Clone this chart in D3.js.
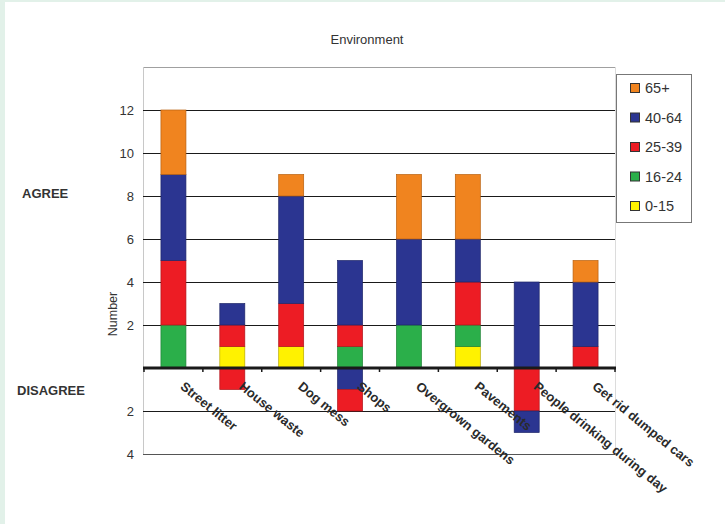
<!DOCTYPE html>
<html>
<head>
<meta charset="utf-8">
<script src="https://cdn.jsdelivr.net/npm/d3@7/dist/d3.min.js"></script>
<style>
  html, body { margin: 0; padding: 0; background: #fff; }
  svg { display: block; }
  text { font-family: "Liberation Sans", Arial, sans-serif; }
</style>
</head>
<body>
<svg id="chart" width="725" height="524"></svg>
<script>
// ---- Data ----
const categories = ["Street litter", "House waste", "Dog mess", "Shops", "Overgrown gardens", "Pavements", "People drinking during day", "Get rid dumped cars"];
const groups = ["0-15", "16-24", "25-39", "40-64", "65+"];           // stacking order (bottom -> top)
const legendOrder = ["65+", "40-64", "25-39", "16-24", "0-15"];
// AGREE (positive) counts
const agree0_15  = [0, 1, 1, 0, 0, 1, 0, 0];
const agree16_24 = [2, 0, 0, 1, 2, 1, 0, 0];
const agree25_39 = [3, 1, 2, 1, 0, 2, 0, 1];
const agree40_64 = [4, 1, 5, 3, 4, 2, 4, 3];
const agree65    = [3, 0, 1, 0, 3, 3, 0, 1];
// DISAGREE (negative) counts
const disagree25_39 = [0, 1, 0, 1, 0, 0, 2, 0];
const disagree40_64 = [0, 0, 0, 1, 0, 0, 1, 0];
const disagreeStackOrder = [[], ["25-39"], [], ["40-64", "25-39"], [], [], ["25-39", "40-64"], []];
const yTicksPos = [2, 4, 6, 8, 10, 12];
const yTicksNeg = [-2, -4];

const agree = { "0-15": agree0_15, "16-24": agree16_24, "25-39": agree25_39, "40-64": agree40_64, "65+": agree65 };
const disagree = { "25-39": disagree25_39, "40-64": disagree40_64 };
const colors = { "65+": "#F0841F", "40-64": "#2B3591", "25-39": "#ED1C24", "16-24": "#2BAF4A", "0-15": "#FFF200" };
const strokes = { "65+": "#B8600F", "40-64": "#1E2668", "25-39": "#B0141A", "16-24": "#1F8036", "0-15": "#B8A800" };

// ---- Layout ----
const svg = d3.select("#chart");
const L = 143, R = 615, T = 67, B = 454;

// page border strips
svg.append("rect").attr("x", 0).attr("y", 0).attr("width", 725).attr("height", 2).attr("fill", "#E2F1E9");
svg.append("rect").attr("x", 0).attr("y", 0).attr("width", 5).attr("height", 524).attr("fill", "#E2F1E9");

const x = d3.scaleBand().domain(categories).range([L + 1, R]).paddingInner(0).paddingOuter(0);
const y = d3.scaleLinear().domain([-4, 14]).range([B, T]);
const barW = 25;

// plot frame
svg.append("line").attr("x1", L).attr("x2", R).attr("y1", T + 0.5).attr("y2", T + 0.5).attr("stroke", "#A0A0A0");
svg.append("line").attr("x1", L + 0.5).attr("x2", L + 0.5).attr("y1", T).attr("y2", B).attr("stroke", "#C8C8C8");
svg.append("line").attr("x1", R + 0.5).attr("x2", R + 0.5).attr("y1", T).attr("y2", B).attr("stroke", "#DCDCDC");

// gridlines via axis
const gridAxis = d3.axisLeft(y).tickValues(yTicksPos.concat(yTicksNeg)).tickSize(-(R - L)).tickFormat("");
const gg = svg.append("g").attr("transform", `translate(${L},0)`).call(gridAxis);
gg.select(".domain").remove();
gg.selectAll(".tick line").attr("stroke", d => d === -4 ? "#555" : "#1a1a1a").attr("stroke-width", 1);

// tick labels
const labAxis = d3.axisLeft(y).tickValues(yTicksPos.concat(yTicksNeg)).tickSize(0).tickPadding(9).tickFormat(d => Math.abs(d));
const lg = svg.append("g").attr("transform", `translate(${L},0)`).call(labAxis);
lg.select(".domain").remove();
lg.selectAll(".tick text").attr("font-size", 13).attr("fill", "#333").attr("font-family", "Liberation Sans, Arial, sans-serif");

// bars - positive stacks
const stackData = categories.map((c, i) => {
  const o = { cat: c };
  groups.forEach(g => o[g] = agree[g][i]);
  return o;
});
const series = d3.stack().keys(groups)(stackData);
const barsG = svg.append("g");
series.forEach(s => {
  barsG.selectAll(null).data(s.filter(d => d[1] - d[0] > 0)).enter().append("rect")
    .attr("x", d => x(d.data.cat) + x.bandwidth() / 2 - barW / 2)
    .attr("y", d => y(d[1]))
    .attr("width", barW)
    .attr("height", d => y(d[0]) - y(d[1]))
    .attr("fill", colors[s.key])
    .attr("stroke", strokes[s.key])
    .attr("stroke-width", 0.7);
});

// bars - negative stacks
categories.forEach((c, i) => {
  let base = 0;
  disagreeStackOrder[i].forEach(g => {
    const v = disagree[g][i];
    const top = base, bot = base - v;
    barsG.append("rect")
      .attr("x", x(c) + x.bandwidth() / 2 - barW / 2)
      .attr("y", y(top))
      .attr("width", barW)
      .attr("height", y(bot) - y(top))
      .attr("fill", colors[g])
      .attr("stroke", strokes[g])
      .attr("stroke-width", 0.7);
    base = bot;
  });
});

// zero axis
const xAxis = d3.axisBottom(x).tickSize(0).tickFormat("");
const xg = svg.append("g").attr("transform", `translate(0,${y(0)})`).call(xAxis);
xg.select(".domain").remove();
svg.append("line").attr("x1", L).attr("x2", R + 1).attr("y1", y(0)).attr("y2", y(0)).attr("stroke", "#1a1a1a").attr("stroke-width", 3);
const bounds = categories.map(c => x(c)).concat([x(categories[categories.length - 1]) + x.bandwidth()]);
svg.selectAll(null).data(bounds).enter().append("line")
  .attr("x1", d => d).attr("x2", d => d)
  .attr("y1", y(0)).attr("y2", y(0) + 4)
  .attr("stroke", "#1a1a1a").attr("stroke-width", 1.5);

// category labels
svg.selectAll(null).data(categories).enter().append("text")
  .attr("transform", d => `translate(${x(d) + x.bandwidth() / 2 + 6},${y(0) + 20}) rotate(39)`)
  .attr("text-anchor", "start")
  .attr("font-size", 13)
  .attr("font-weight", "bold")
  .attr("fill", "#2a2a2a")
  .text(d => d);

// title
svg.append("text").attr("x", 367).attr("y", 44).attr("text-anchor", "middle")
  .attr("font-size", 13).attr("fill", "#333").text("Environment");

// side labels
svg.append("text").attr("x", 22).attr("y", 198).attr("font-size", 13).attr("font-weight", "bold").attr("fill", "#333").text("AGREE");
svg.append("text").attr("x", 17).attr("y", 395).attr("font-size", 13).attr("font-weight", "bold").attr("fill", "#333").text("DISAGREE");
svg.append("text").attr("transform", "translate(117,314) rotate(-90)").attr("text-anchor", "middle")
  .attr("font-size", 12.5).attr("fill", "#333").text("Number");

// legend
const leg = svg.append("g");
leg.append("rect").attr("x", 616.5).attr("y", 74.5).attr("width", 75).attr("height", 148)
  .attr("fill", "#fff").attr("stroke", "#777").attr("stroke-width", 1);
const ly = d3.scalePoint().domain(legendOrder).range([88, 206]);
legendOrder.forEach(g => {
  leg.append("rect").attr("x", 630.5).attr("y", ly(g) - 4.5).attr("width", 9).attr("height", 9)
    .attr("fill", colors[g]).attr("stroke", "#333").attr("stroke-width", 1);
  leg.append("text").attr("x", 645).attr("y", ly(g) + 5).attr("font-size", 14.5).attr("fill", "#333").text(g);
});
</script>
</body>
</html>
